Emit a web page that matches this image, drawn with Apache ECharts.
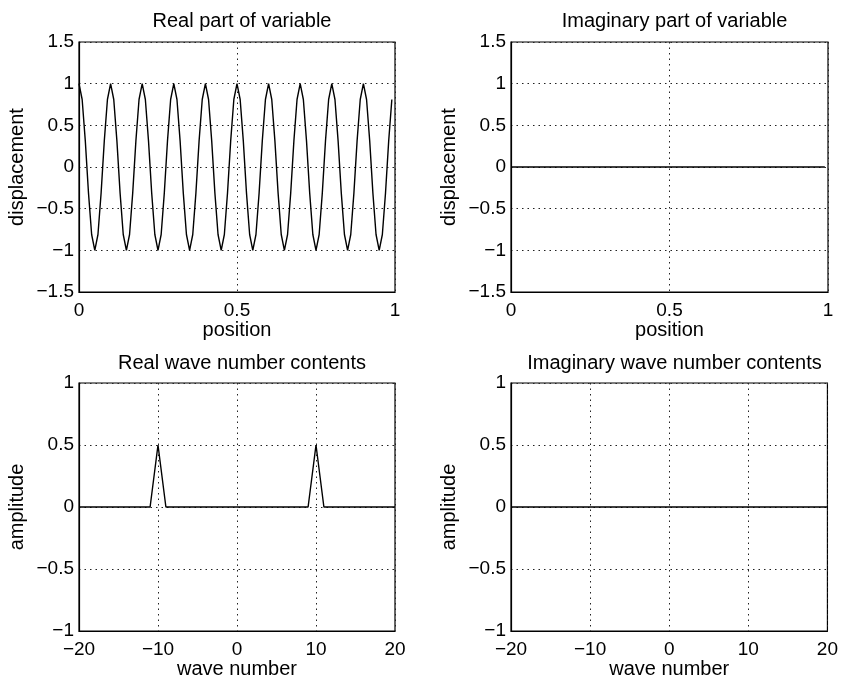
<!DOCTYPE html>
<html>
<head>
<meta charset="utf-8">
<script src="https://cdn.jsdelivr.net/npm/echarts@6/dist/echarts.min.js"></script>
<style>
html,body{margin:0;padding:0;background:#fff;}
#c{width:841px;height:684px;}
</style>
</head>
<body>
<div id="c"></div>
<script>
// ---- data ----
const titles = ["Real part of variable", "Imaginary part of variable", "Real wave number contents", "Imaginary wave number contents"];
const position = [0,0.01,0.02,0.03,0.04,0.05,0.06,0.07,0.08,0.09,
0.10,0.11,0.12,0.13,0.14,0.15,0.16,0.17,0.18,0.19,
0.20,0.21,0.22,0.23,0.24,0.25,0.26,0.27,0.28,0.29,
0.30,0.31,0.32,0.33,0.34,0.35,0.36,0.37,0.38,0.39,
0.40,0.41,0.42,0.43,0.44,0.45,0.46,0.47,0.48,0.49,
0.50,0.51,0.52,0.53,0.54,0.55,0.56,0.57,0.58,0.59,
0.60,0.61,0.62,0.63,0.64,0.65,0.66,0.67,0.68,0.69,
0.70,0.71,0.72,0.73,0.74,0.75,0.76,0.77,0.78,0.79,
0.80,0.81,0.82,0.83,0.84,0.85,0.86,0.87,0.88,0.89,
0.90,0.91,0.92,0.93,0.94,0.95,0.96,0.97,0.98,0.99];
const realDisplacement = [
1,0.81,0.31,-0.31,-0.81,-1,-0.81,-0.31,0.31,0.81,
1,0.81,0.31,-0.31,-0.81,-1,-0.81,-0.31,0.31,0.81,
1,0.81,0.31,-0.31,-0.81,-1,-0.81,-0.31,0.31,0.81,
1,0.81,0.31,-0.31,-0.81,-1,-0.81,-0.31,0.31,0.81,
1,0.81,0.31,-0.31,-0.81,-1,-0.81,-0.31,0.31,0.81,
1,0.81,0.31,-0.31,-0.81,-1,-0.81,-0.31,0.31,0.81,
1,0.81,0.31,-0.31,-0.81,-1,-0.81,-0.31,0.31,0.81,
1,0.81,0.31,-0.31,-0.81,-1,-0.81,-0.31,0.31,0.81,
1,0.81,0.31,-0.31,-0.81,-1,-0.81,-0.31,0.31,0.81,
1,0.81,0.31,-0.31,-0.81,-1,-0.81,-0.31,0.31,0.81];
const imagDisplacement = [
0,0,0,0,0,0,0,0,0,0, 0,0,0,0,0,0,0,0,0,0,
0,0,0,0,0,0,0,0,0,0, 0,0,0,0,0,0,0,0,0,0,
0,0,0,0,0,0,0,0,0,0, 0,0,0,0,0,0,0,0,0,0,
0,0,0,0,0,0,0,0,0,0, 0,0,0,0,0,0,0,0,0,0,
0,0,0,0,0,0,0,0,0,0, 0,0,0,0,0,0,0,0,0,0];
const waveNumber = [-20,-19,-18,-17,-16,-15,-14,-13,-12,-11,-10,-9,-8,-7,-6,-5,-4,-3,-2,-1,0,
1,2,3,4,5,6,7,8,9,10,11,12,13,14,15,16,17,18,19,20];
const realAmplitude = [0,0,0,0,0,0,0,0,0,0,0.5,0,0,0,0,0,0,0,0,0,0,
0,0,0,0,0,0,0,0,0,0.5,0,0,0,0,0,0,0,0,0,0];
const imagAmplitude = [0,0,0,0,0,0,0,0,0,0,0,0,0,0,0,0,0,0,0,0,0,
0,0,0,0,0,0,0,0,0,0,0,0,0,0,0,0,0,0,0,0];
const posTicks = [0, 0.5, 1];
const dispTicks = [-1.5, 1.5, 0.5];   // min, max, step
const waveTicks = [-20, 20, 10];
const ampTicks = [-1, 1, 0.5];
const xNames = ["position", "position", "wave number", "wave number"];
const yNames = ["displacement", "displacement", "amplitude", "amplitude"];

// ---- layout / style ----
const FONT = '"Liberation Sans", Arial, Helvetica, sans-serif';
const grids = [
  {left: 79, top: 42, width: 316, height: 250},
  {left: 511, top: 42, width: 317, height: 250},
  {left: 79, top: 383, width: 316, height: 248},
  {left: 511, top: 383, width: 317, height: 248}
];
const fmt = v => String(v).replace('-', '\u2212');
const gridLine = {show: true, lineStyle: {color: '#222', type: [1.5, 4], width: 1}};

function pairs(xs, ys) { return xs.map((x, i) => [x, ys[i]]); }

const xRanges = [
  [posTicks[0], posTicks[2], posTicks[1] - posTicks[0]],
  [posTicks[0], posTicks[2], posTicks[1] - posTicks[0]],
  waveTicks, waveTicks
];
const yRanges = [dispTicks, dispTicks, ampTicks, ampTicks];
const seriesData = [
  pairs(position, realDisplacement),
  pairs(position, imagDisplacement),
  pairs(waveNumber, realAmplitude),
  pairs(waveNumber, imagAmplitude)
];

const option = {
  animation: false,
  backgroundColor: '#fff',
  title: grids.map((g, i) => ({
    text: titles[i],
    left: g.left + g.width / 2,
    top: i < 2 ? 6 : 348,
    textAlign: 'center',
    textStyle: {fontFamily: FONT, fontSize: 20, fontWeight: 'normal', color: '#000'}
  })),
  grid: grids.map(g => Object.assign({show: true, borderColor: '#000', borderWidth: 1.2, backgroundColor: '#fff'}, g)),
  xAxis: grids.map((g, i) => ({
    type: 'value', gridIndex: i,
    min: xRanges[i][0], max: xRanges[i][1], interval: xRanges[i][2],
    name: xNames[i], nameLocation: 'middle', nameGap: 28,
    nameTextStyle: {fontFamily: FONT, fontSize: 20, color: '#000'},
    axisLine: {show: true, onZero: false, lineStyle: {color: '#000', width: 1.2}},
    axisTick: {show: false},
    axisLabel: {fontFamily: FONT, fontSize: 19, color: '#000', margin: 9, formatter: fmt},
    splitLine: gridLine
  })),
  yAxis: grids.map((g, i) => ({
    type: 'value', gridIndex: i,
    min: yRanges[i][0], max: yRanges[i][1], interval: yRanges[i][2],
    name: yNames[i], nameLocation: 'middle', nameGap: 52,
    nameTextStyle: {fontFamily: FONT, fontSize: 20, color: '#000'},
    axisLine: {show: true, onZero: false, lineStyle: {color: '#000', width: 1.2}},
    axisTick: {show: false},
    axisLabel: {fontFamily: FONT, fontSize: 19, color: '#000', margin: 5, formatter: fmt},
    splitLine: gridLine
  })),
  series: seriesData.map((d, i) => ({
    type: 'line', xAxisIndex: i, yAxisIndex: i,
    data: d, showSymbol: false, symbol: 'none',
    lineStyle: {color: '#000', width: 1.4},
    z: 5
  }))
};

const chart = echarts.init(document.getElementById('c'), null, {renderer: 'canvas'});
chart.setOption(option);
</script>
</body>
</html>
